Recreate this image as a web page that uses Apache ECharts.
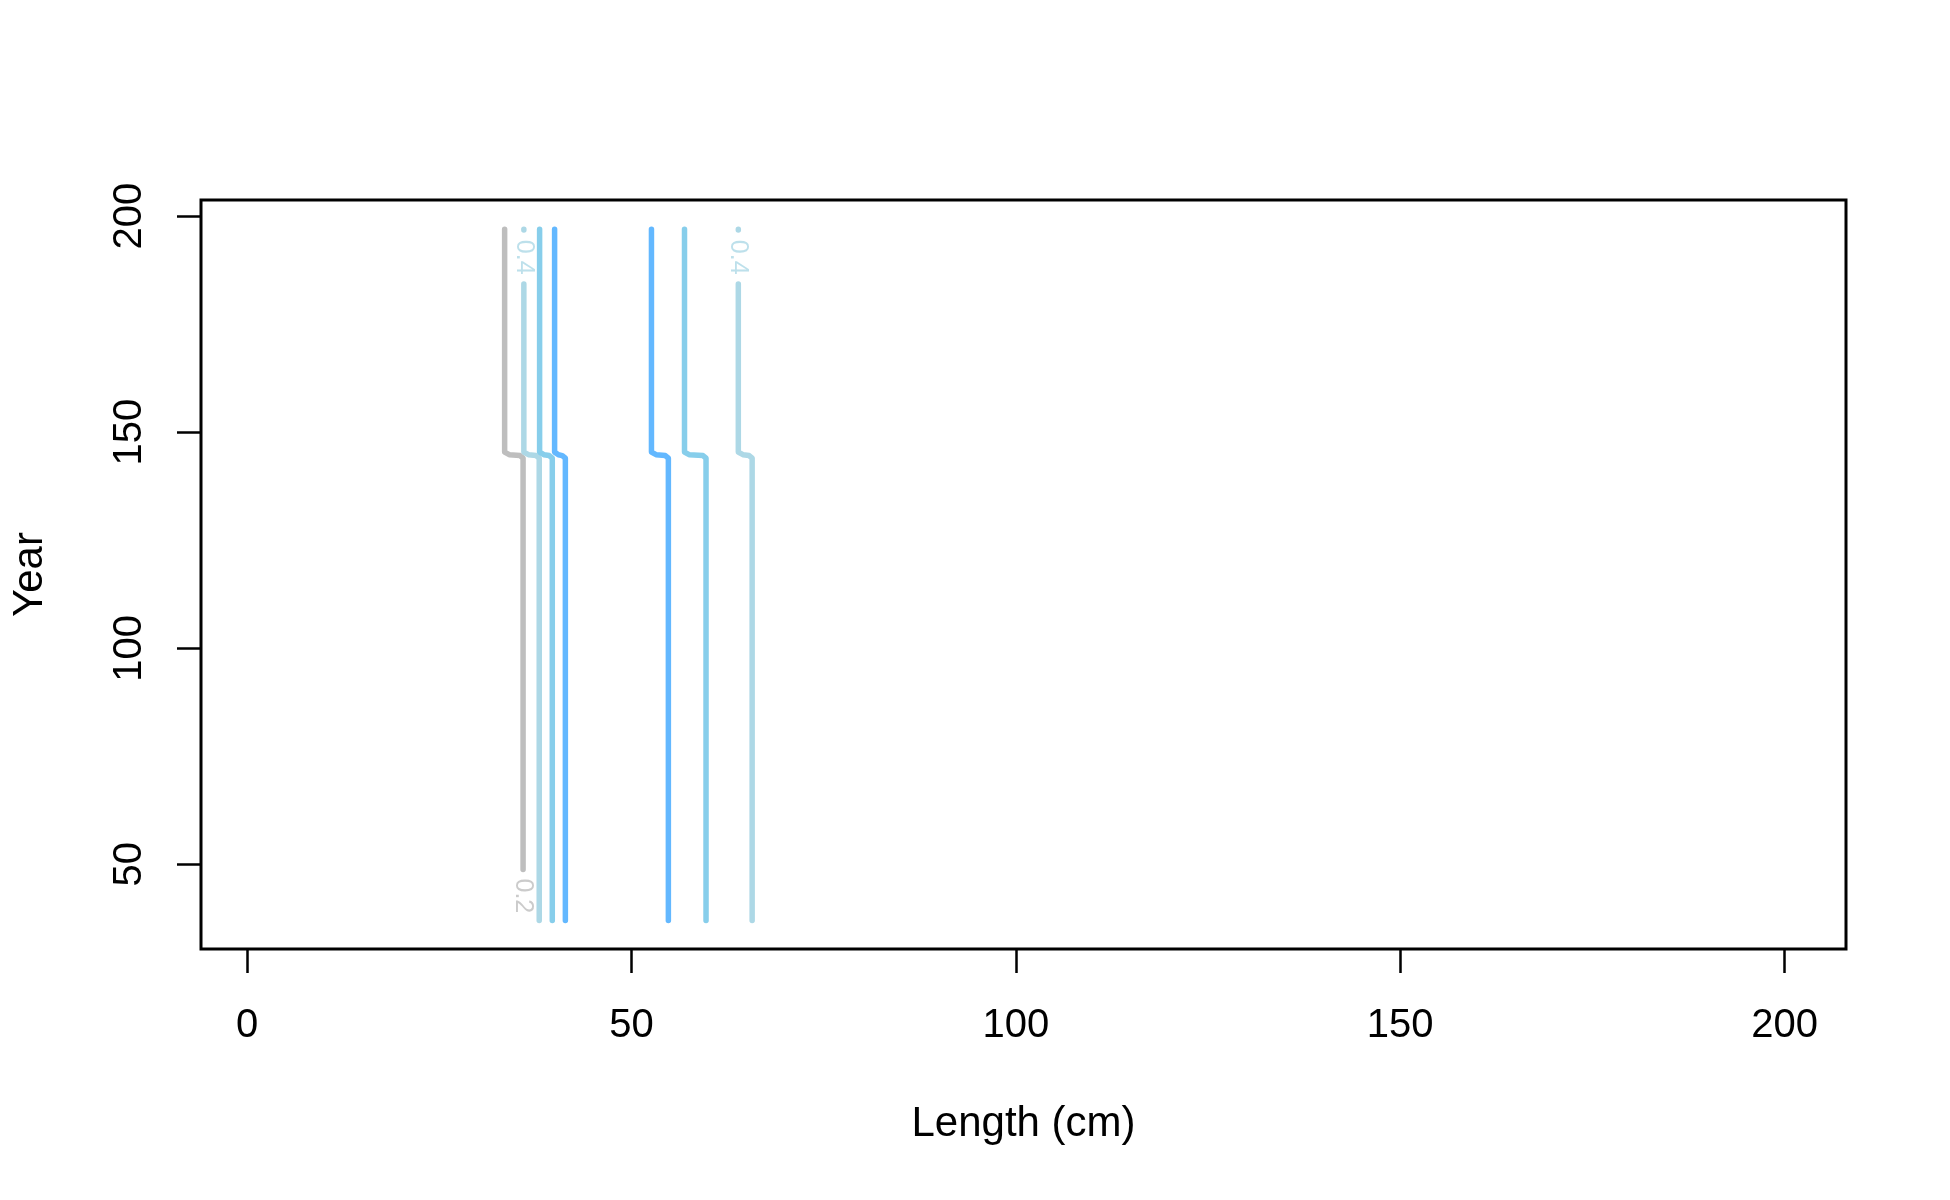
<!DOCTYPE html>
<html>
<head>
<meta charset="utf-8">
<script src="https://cdn.jsdelivr.net/npm/echarts@6/dist/echarts.min.js"></script>
<style>
html,body{margin:0;padding:0;background:#fff;}
#chart{width:1950px;height:1200px;}
</style>
</head>
<body>
<div id="chart"></div>
<script>
// ---- data ----
const xTicks = [0, 50, 100, 150, 200];
const yTicks = [50, 100, 150, 200];
const xTitle = 'Length (cm)';
const yTitle = 'Year';

// contour line pieces: [length, year]
const gray02 = [[33.5,197],[33.5,145.4],[34.1,144.8],[35.5,144.6],[35.9,144.0],[35.9,48.8]];
const lightblue04L_top = [[36.0,197],[36.0,196.8]];
const lightblue04L = [[36.0,184.3],[36.0,145.4],[36.6,144.8],[37.6,144.6],[38.0,144.0],[38.0,37]];
const skyblue06L = [[38.05,197],[38.05,145.4],[38.6,144.8],[39.3,144.6],[39.7,144.0],[39.7,37]];
const blue08L = [[40.0,197],[40.0,145.4],[40.5,144.8],[41.0,144.6],[41.4,144.0],[41.4,37]];
const blue08R = [[52.6,197],[52.6,145.4],[53.2,144.8],[54.4,144.6],[54.8,144.0],[54.8,37]];
const skyblue06R = [[56.9,197],[56.9,145.4],[57.5,144.8],[59.3,144.6],[59.7,144.0],[59.7,37]];
const lightblue04R_top = [[63.9,197],[63.9,196.8]];
const lightblue04R = [[63.9,184.3],[63.9,145.4],[64.5,144.8],[65.3,144.6],[65.7,144.0],[65.7,37]];

// contour labels: [length, year, level]
const contourLabels = [[35.9,42.7,'0.2'],[36.0,190.5,'0.4'],[63.9,190.5,'0.4']];

// ---- styles ----
const C = {gray:'#BEBEBE', lightblue:'#ADD8E6', skyblue:'#87CEEB', blue:'#63B8FF'};
const FONT = 'Liberation Sans, Arial, sans-serif';
const LW = 5.5;

function lineSeries(data, color) {
  return {
    type: 'line', data: data, showSymbol: false, symbol: 'none',
    lineStyle: {color: color, width: LW, cap: 'round', join: 'round'},
    silent: true, z: 3
  };
}

const labelColors = [C.gray, C.lightblue, C.lightblue];

const series = [
  lineSeries(gray02, C.gray),
  lineSeries(lightblue04L_top, C.lightblue),
  lineSeries(lightblue04L, C.lightblue),
  lineSeries(skyblue06L, C.skyblue),
  lineSeries(blue08L, C.blue),
  lineSeries(blue08R, C.blue),
  lineSeries(skyblue06R, C.skyblue),
  lineSeries(lightblue04R_top, C.lightblue),
  lineSeries(lightblue04R, C.lightblue),
  {
    type: 'scatter', silent: true, z: 4,
    symbol: 'circle', symbolSize: 1,
    itemStyle: {color: 'rgba(0,0,0,0)'},
    data: contourLabels.map((d, i) => ({
      value: [d[0], d[1]],
      label: {
        show: true, position: 'inside', formatter: d[2], rotate: -90,
        color: labelColors[i], fontSize: 25, fontFamily: FONT,
        align: 'center', verticalAlign: 'middle'
      }
    }))
  }
];

const chart = echarts.init(document.getElementById('chart'), null, {renderer: 'canvas'});
chart.setOption({
  animation: false,
  backgroundColor: '#ffffff',
  grid: {left: 201, right: 104, top: 200, bottom: 251, show: true, borderColor: '#000', borderWidth: 3, backgroundColor: 'transparent'},
  xAxis: {
    type: 'value', min: -6, max: 208,
    name: xTitle, nameLocation: 'middle', nameGap: 154,
    nameTextStyle: {fontSize: 42, color: '#000', fontFamily: FONT},
    axisLine: {show: false, onZero: false},
    splitLine: {show: false},
    axisTick: {show: true, customValues: xTicks, length: 24, lineStyle: {color: '#000', width: 2.5}},
    axisLabel: {show: true, customValues: xTicks, fontSize: 40, color: '#000', fontFamily: FONT, margin: 57}
  },
  yAxis: {
    type: 'value', min: 30.4, max: 203.75,
    name: yTitle, nameLocation: 'middle', nameGap: 150, nameRotate: 90,
    nameTextStyle: {fontSize: 42, color: '#000', fontFamily: FONT},
    axisLine: {show: false, onZero: false},
    splitLine: {show: false},
    axisTick: {show: true, customValues: yTicks, length: 24, lineStyle: {color: '#000', width: 2.5}},
    axisLabel: {show: true, customValues: yTicks, rotate: 90, fontSize: 40, color: '#000', fontFamily: FONT, margin: 51}
  },
  series: series
});
</script>
</body>
</html>
